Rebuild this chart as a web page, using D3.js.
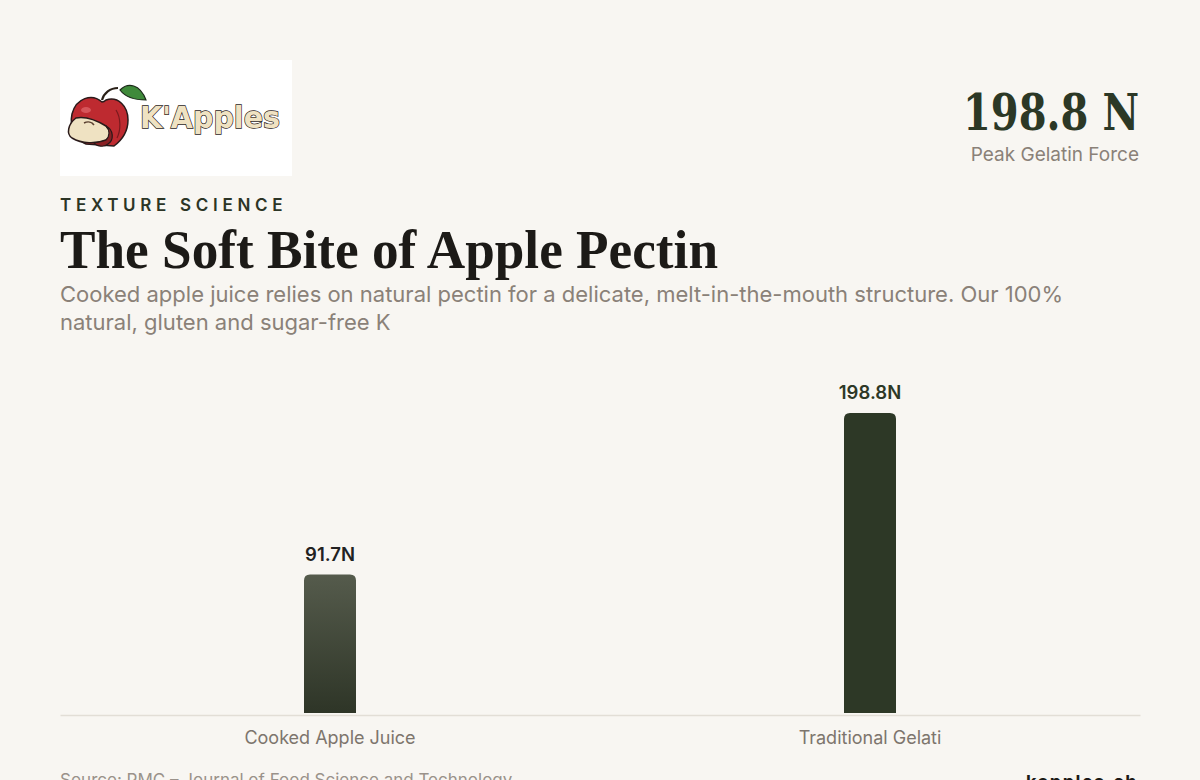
<!DOCTYPE html>
<html><head><meta charset="utf-8">
<script src="https://cdn.jsdelivr.net/npm/d3@7"></script>
<style>
html,body{margin:0;padding:0;background:#f8f6f2;}
svg{display:block;}
</style></head>
<body>
<svg id="chart" width="1200" height="780"></svg>
<script>
const categories = ["Cooked Apple Juice", "Traditional Gelati"];
const values = [91.7, 198.8];
const valueLabels = ["91.7N", "198.8N"];
const headline = "198.8 N";
const headlineLabel = "Peak Gelatin Force";
const kicker = "TEXTURE SCIENCE";
const title = "The Soft Bite of Apple Pectin";
const subtitleLines = ["Cooked apple juice relies on natural pectin for a delicate, melt-in-the-mouth structure. Our 100%", "natural, gluten and sugar-free K"];
const source = "Source: PMC \u2013 Journal of Food Science and Technology";
const brand = "kapples.ch";

const svg = d3.select("#chart");
const W = 1200, H = 780;
svg.append("rect").attr("width", W).attr("height", H).attr("fill", "#f8f6f2");

const defs = svg.append("defs");
const g1 = defs.append("linearGradient").attr("id", "gradA").attr("x1", 0).attr("y1", 0).attr("x2", 0).attr("y2", 1);
g1.append("stop").attr("offset", "0%").attr("stop-color", "#555b4c");
g1.append("stop").attr("offset", "100%").attr("stop-color", "#2e3527");

// Logo
const logo = svg.append("g").attr("transform", "translate(60,60)");
logo.append("rect").attr("width", 232).attr("height", 116).attr("fill", "#ffffff");
logo.append("path").attr("d", "M60,30 C68,22 80,24 86,40 C76,40 66,38 60,30 Z").attr("fill", "#3f8a3a").attr("stroke", "#1c2a1a").attr("stroke-width", 1.2);
logo.append("path").attr("d", "M42,40 C44,33 50,28 58,28").attr("fill", "none").attr("stroke", "#2a2018").attr("stroke-width", 2.2);
logo.append("path").attr("d", "M42,42 C32,33 16,38 12,54 C9,68 16,80 26,84 L54,86 C62,80 68,72 68,60 C68,46 58,36 46,40 C45,41 43,42 42,42 Z")
  .attr("fill", "#be2a30").attr("stroke", "#2a1a1a").attr("stroke-width", 1.5);
logo.append("path").attr("d", "M56,50 C61,58 61,70 57,78").attr("fill", "none").attr("stroke", "#7a1a1e").attr("stroke-width", 1.2);
logo.append("ellipse").attr("cx", 26).attr("cy", 50).attr("rx", 5).attr("ry", 3).attr("fill", "#e0686c").attr("opacity", 0.7);
// slice
logo.append("path").attr("d", "M16,58 C8,64 6,74 12,78 C22,84 36,84 46,80 C52,76 50,70 46,66 C36,60 26,56 16,58 Z")
  .attr("fill", "#efe2c2").attr("stroke", "#2a1a1a").attr("stroke-width", 1.5);
logo.append("path").attr("d", "M46,66 C54,70 54,80 48,84 C44,88 36,86 34,83 C40,82 44,81 46,80 C50,76 50,70 46,66 Z").attr("fill", "#8a2024").attr("stroke", "#2a1a1a").attr("stroke-width", 1.2);
logo.append("path").attr("d", "M24,63 C28,61 32,62 34,65").attr("fill", "none").attr("stroke", "#5a4030").attr("stroke-width", 1.5);
logo.append("text").attr("x", 80).attr("y", 68).text("K'Apples")
  .attr("font-family", "'DejaVu Sans', sans-serif").attr("font-weight", "bold").attr("font-size", 30)
  .attr("fill", "#efe2c2").attr("stroke", "#2a1a1a").attr("stroke-width", 1.4).attr("paint-order", "stroke")
  .attr("textLength", 140).attr("lengthAdjust", "spacingAndGlyphs");

// Headline top right
svg.append("text").attr("x", 1139).attr("y", 130).attr("text-anchor", "end").text(headline)
  .attr("font-family", "'DejaVu Serif', 'Liberation Serif', serif").attr("font-weight", "bold").attr("font-size", 50)
  .attr("fill", "#2c3826").attr("textLength", 176).attr("lengthAdjust", "spacingAndGlyphs");
svg.append("text").attr("x", 1139).attr("y", 161).attr("text-anchor", "end").text(headlineLabel)
  .attr("font-family", "Inter, sans-serif").attr("font-size", 19).attr("fill", "#8a8178");

// Kicker
svg.append("text").attr("x", 60).attr("y", 211).text(kicker)
  .attr("font-family", "Inter, sans-serif").attr("font-weight", 600).attr("font-size", 17)
  .attr("letter-spacing", "4.7px").attr("fill", "#2c3526");

// Title
svg.append("text").attr("x", 60).attr("y", 268).text(title)
  .attr("font-family", "'Liberation Serif', serif").attr("font-weight", "bold").attr("font-size", 54)
  .attr("fill", "#1c1a17").attr("textLength", 658).attr("lengthAdjust", "spacingAndGlyphs");

// Subtitle
svg.selectAll("text.sub").data(subtitleLines).join("text").attr("class", "sub")
  .attr("x", 60).attr("y", (d, i) => 302 + i * 28).text(d => d)
  .attr("font-family", "Inter, sans-serif").attr("font-size", 22).attr("fill", "#8a8178");

// Chart
const x = d3.scaleBand().domain(categories).range([60, 1140]);
const y = d3.scaleLinear().domain([0, d3.max(values)]).range([713, 413]);
const barW = 52, r = 6;

function topRoundedBar(cx, yTop, yBase, w, rad) {
  const x0 = cx - w / 2, x1 = cx + w / 2;
  return `M${x0},${yBase} L${x0},${yTop + rad} Q${x0},${yTop} ${x0 + rad},${yTop} L${x1 - rad},${yTop} Q${x1},${yTop} ${x1},${yTop + rad} L${x1},${yBase} Z`;
}

const data = categories.map((c, i) => ({ c, v: values[i], label: valueLabels[i], i }));

svg.selectAll("path.bar").data(data).join("path").attr("class", "bar")
  .attr("d", d => topRoundedBar(x(d.c) + x.bandwidth() / 2, y(d.v), y(0), barW, r))
  .attr("fill", d => d.i === 0 ? "url(#gradA)" : "#2d3826");

svg.selectAll("text.val").data(data).join("text").attr("class", "val")
  .attr("x", d => x(d.c) + x.bandwidth() / 2).attr("y", d => y(d.v) - 14)
  .attr("text-anchor", "middle").text(d => d.label)
  .attr("font-family", "Inter, sans-serif").attr("font-weight", 600).attr("font-size", 18.5)
  .attr("fill", d => d.i === 0 ? "#222222" : "#2d3826");

// Axis
const axis = svg.append("g").attr("transform", `translate(0,${715})`)
  .call(d3.axisBottom(x).tickSize(0).tickPadding(16));
axis.select(".domain").attr("stroke", "#e2ded6").attr("stroke-width", 1.5);
axis.selectAll(".tick text").attr("font-family", "Inter, sans-serif").attr("font-size", 18).attr("fill", "#7d756d");

// Footer
svg.append("text").attr("x", 60).attr("y", 786).text(source)
  .attr("font-family", "Inter, sans-serif").attr("font-size", 17).attr("fill", "#9a928a");
svg.append("text").attr("x", 1138).attr("y", 788).attr("text-anchor", "end").text(brand)
  .attr("font-family", "Inter, sans-serif").attr("font-weight", 700).attr("font-size", 18)
  .attr("letter-spacing", "1.5px").attr("fill", "#1c1a17");
</script>
</body></html>
